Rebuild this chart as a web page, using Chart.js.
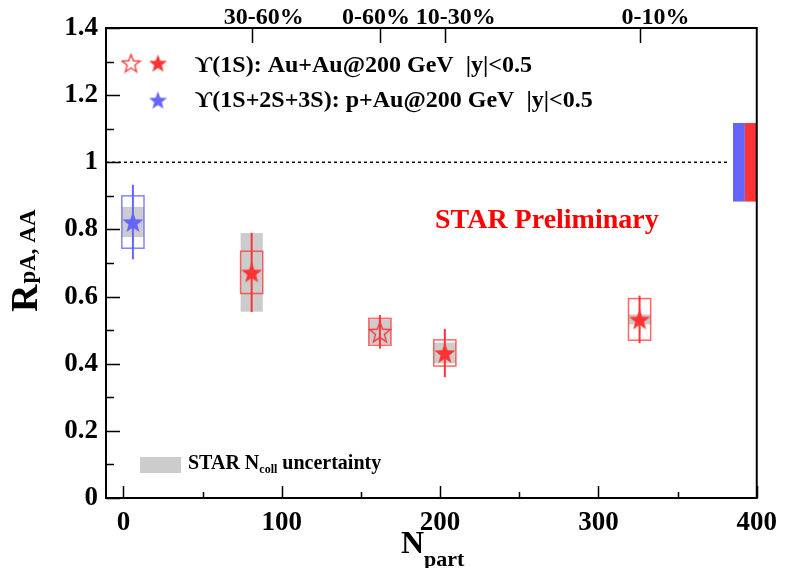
<!DOCTYPE html>
<html>
<head>
<meta charset="utf-8">
<script src="https://cdn.jsdelivr.net/npm/chart.js@4.4.1/dist/chart.umd.min.js"></script>
<style>
html,body{margin:0;padding:0;background:#fff;}
#wrap{width:786px;height:568px;}
</style>
</head>
<body>
<div id="wrap"><canvas id="raaChart" width="786" height="568"></canvas></div>
<script>
// ===== DATA =====
const centralityLabels = ["30-60%", "0-60%", "10-30%", "0-10%"];
const auauNpart = [81, 162, 203, 326];
const auauR     = [0.672, 0.495, 0.432, 0.532];
const auauStat  = [0.118, 0.050, 0.072, 0.071];
const auauSys   = [0.063, 0.040, 0.039, 0.062];
const auauNcoll = [0.117, 0.037, 0.031, 0.015];
const auauOpen  = [false, true, false, false]; // 0-60% = open marker

const pauNpart = [6];
const pauR     = [0.822];
const pauStat  = [0.111];
const pauSys   = [0.078];
const pauNcoll = [0.045];

const globalUncPAu  = 0.117;
const globalUncAuAu = 0.117;

const xTicks = [0, 100, 200, 300, 400];

// ===== STYLE =====
const SERIF = '"Liberation Serif", "DejaVu Serif", "Times New Roman", serif';
const RED = "#ff3333";
const BLUE = "#6464ff";
const GRAY = "#cccccc";
const BOX_HALF = 7;   // half width of sys boxes in Npart units
const GLOBAL_W = 7.5; // width of each global box in Npart units
const TOP_NUDGE = [12, -4, 11, 16]; // px shift of the centrality labels

function makeStar(size, color, open){
    const c = document.createElement("canvas");
    c.width = size; c.height = size;
    const g = c.getContext("2d");
    const R = size/2 - 1, r = R*0.42, cx = size/2, cy = size/2 + 1;
    g.beginPath();
    for(let i=0;i<10;i++){
        const rad = i%2 ? r : R;
        const a = -Math.PI/2 + i*Math.PI/5;
        const px = cx + rad*Math.cos(a), py = cy + rad*Math.sin(a);
        i ? g.lineTo(px,py) : g.moveTo(px,py);
    }
    g.closePath();
    if(open){
        g.strokeStyle = color; g.lineWidth = 1.3; g.stroke();
    }else{
        g.fillStyle = color; g.fill();
    }
    return c;
}

const redStar = makeStar(24, RED, false);
const redOpenStar = makeStar(24, RED, true);
const blueStar = makeStar(24, BLUE, false);
const redStarSm = makeStar(21, RED, false);
const redOpenStarSm = makeStar(21, RED, true);
const blueStarSm = makeStar(21, BLUE, false);

function drawSet(ctx, x, y, np, rv, stat, sys, ncoll, color, boxColor){
    np.forEach((n,i)=>{
        const x0 = x.getPixelForValue(n - BOX_HALF);
        const x1 = x.getPixelForValue(n + BOX_HALF);
        // Ncoll uncertainty
        const g0 = y.getPixelForValue(rv[i] + ncoll[i]);
        const g1 = y.getPixelForValue(rv[i] - ncoll[i]);
        ctx.fillStyle = GRAY;
        ctx.fillRect(x0, g0, x1-x0, g1-g0);
        // systematic box
        const s0 = y.getPixelForValue(rv[i] + sys[i]);
        const s1 = y.getPixelForValue(rv[i] - sys[i]);
        ctx.strokeStyle = boxColor;
        ctx.lineWidth = 1.5;
        ctx.setLineDash([]);
        ctx.strokeRect(x0, s0, x1-x0, s1-s0);
        // stat error bar
        const px = x.getPixelForValue(n);
        ctx.strokeStyle = color;
        ctx.lineWidth = 2;
        ctx.beginPath();
        ctx.moveTo(px, y.getPixelForValue(rv[i] + stat[i]));
        ctx.lineTo(px, y.getPixelForValue(rv[i] - stat[i]));
        ctx.stroke();
    });
}

const decorations = {
    id: "decorations",
    beforeDatasetsDraw(chart){
        const {ctx, scales:{x, y}} = chart;
        ctx.save();
        // global uncertainty boxes at unity
        const gx2 = x.getPixelForValue(x.max);
        const gx1 = x.getPixelForValue(x.max - GLOBAL_W);
        const gx0 = x.getPixelForValue(x.max - 2*GLOBAL_W);
        ctx.fillStyle = BLUE;
        ctx.fillRect(gx0, y.getPixelForValue(1+globalUncPAu), gx1-gx0,
            y.getPixelForValue(1-globalUncPAu) - y.getPixelForValue(1+globalUncPAu));
        ctx.fillStyle = RED;
        ctx.fillRect(gx1, y.getPixelForValue(1+globalUncAuAu), gx2-gx1,
            y.getPixelForValue(1-globalUncAuAu) - y.getPixelForValue(1+globalUncAuAu));
        // dashed line at 1
        ctx.strokeStyle = "#000";
        ctx.lineWidth = 1.5;
        ctx.setLineDash([3,3]);
        ctx.beginPath();
        ctx.moveTo(x.getPixelForValue(x.min), y.getPixelForValue(1));
        ctx.lineTo(gx0 - 3, y.getPixelForValue(1));
        ctx.stroke();
        ctx.setLineDash([]);

        drawSet(ctx, x, y, pauNpart, pauR, pauStat, pauSys, pauNcoll, BLUE, "rgba(100,100,255,0.8)");
        drawSet(ctx, x, y, auauNpart, auauR, auauStat, auauSys, auauNcoll, RED, "rgba(255,51,51,0.75)");
        ctx.restore();
    },
    afterDraw(chart){
        const {ctx, chartArea:a, scales:{x, y}} = chart;
        ctx.save();
        // frame
        ctx.strokeStyle = "#000";
        ctx.lineWidth = 2;
        ctx.strokeRect(a.left, a.top, a.right-a.left, a.bottom-a.top);
        // ticks inside frame
        ctx.lineWidth = 1.5;
        ctx.beginPath();
        for(let v=0; v<=14; v++){
            const py = Math.round(y.getPixelForValue(v/10)) + 0.5;
            ctx.moveTo(a.left, py);
            ctx.lineTo(a.left + (v%2===0 ? 14 : 8), py);
        }
        for(let v=0; v<=400; v+=50){
            const px = Math.round(x.getPixelForValue(v)) + 0.5;
            ctx.moveTo(px, a.bottom);
            ctx.lineTo(px, a.bottom - (v%100===0 ? 12 : 6));
        }
        auauNpart.forEach(n=>{
            const px = Math.round(x.getPixelForValue(n)) + 0.5;
            ctx.moveTo(px, a.top);
            ctx.lineTo(px, a.top + 15);
        });
        ctx.stroke();

        ctx.fillStyle = "#000";
        // centrality labels on top
        ctx.textAlign = "center";
        ctx.textBaseline = "alphabetic";
        ctx.font = "bold 24px " + SERIF;
        auauNpart.forEach((n,i)=>{
            ctx.fillText(centralityLabels[i], x.getPixelForValue(n) + TOP_NUDGE[i], 24);
        });

        ctx.textAlign = "left";
        // x title
        ctx.font = "bold 32px " + SERIF;
        const nW = ctx.measureText("N").width;
        ctx.fillText("N", 401, 553);
        ctx.font = "bold 22px " + SERIF;
        ctx.fillText("part", 401 + nW, 566);
        // y title
        ctx.save();
        ctx.translate(37, 312);
        ctx.rotate(-Math.PI/2);
        ctx.font = "bold 38px " + SERIF;
        const rW = ctx.measureText("R").width;
        ctx.fillText("R", 0, 0);
        ctx.font = "bold 23px " + SERIF;
        ctx.fillText("pA, AA", rW + 1, -2);
        ctx.restore();

        // legend
        ctx.drawImage(redOpenStarSm, 131-10.5, 63-10.5);
        ctx.drawImage(redStarSm, 158-10.5, 63-10.5);
        ctx.drawImage(blueStarSm, 158-10.5, 100-10.5);
        ctx.font = "bold 24px " + SERIF;
        ctx.fillText("\u03D2(1S): Au+Au@200 GeV  |y|<0.5", 195, 72);
        ctx.fillText("\u03D2(1S+2S+3S): p+Au@200 GeV  |y|<0.5", 195, 107);

        ctx.fillStyle = GRAY;
        ctx.fillRect(140, 457, 41, 16);
        ctx.fillStyle = "#000";
        ctx.font = "bold 20px " + SERIF;
        ctx.fillText("STAR N", 188, 469);
        let tx = 188 + ctx.measureText("STAR N").width;
        ctx.font = "bold 12px " + SERIF;
        ctx.fillText("coll", tx, 473);
        tx += ctx.measureText("coll").width;
        ctx.font = "bold 20px " + SERIF;
        ctx.fillText(" uncertainty", tx, 469);

        ctx.fillStyle = "#ff0000";
        ctx.font = "bold 28px " + SERIF;
        ctx.fillText("STAR Preliminary", 435, 228);
        ctx.restore();
    }
};

const tickFont = {family: SERIF, size: 27, weight: "bold"};

const chart = new Chart(document.getElementById("raaChart"), {
    type: "scatter",
    data: {
        datasets: [
            {
                label: "Au+Au",
                data: auauNpart.map((n,i)=>({x:n, y:auauR[i]})),
                pointStyle: c => auauOpen[c.dataIndex] ? redOpenStar : redStar,
                xAxisID: "x", yAxisID: "y"
            },
            {
                label: "p+Au",
                data: pauNpart.map((n,i)=>({x:n, y:pauR[i]})),
                pointStyle: blueStar,
                xAxisID: "x", yAxisID: "y"
            }
        ]
    },
    options: {
        responsive: false,
        animation: false,
        events: [],
        layout: {padding: {left: 0, right: 24, top: 28, bottom: 0}},
        plugins: {legend: {display: false}, tooltip: {enabled: false}},
        scales: {
            x: {
                type: "linear", position: "bottom", min: -11, max: 400,
                afterBuildTicks: s => { s.ticks = xTicks.map(v=>({value:v})); },
                ticks: {color: "#000", font: tickFont, padding: 9, maxRotation: 0},
                grid: {display: false, drawTicks: false},
                border: {display: false},
                afterFit: s => { s.height = 70; }
            },
            y: {
                min: 0, max: 1.4,
                ticks: {
                    stepSize: 0.2, color: "#000", font: tickFont, padding: 8,
                    callback: v => String(+v.toFixed(1))
                },
                grid: {display: false, drawTicks: false},
                border: {display: false},
                afterFit: s => { s.width = 106; }
            }
        }
    },
    plugins: [decorations]
});
</script>
</body>
</html>
